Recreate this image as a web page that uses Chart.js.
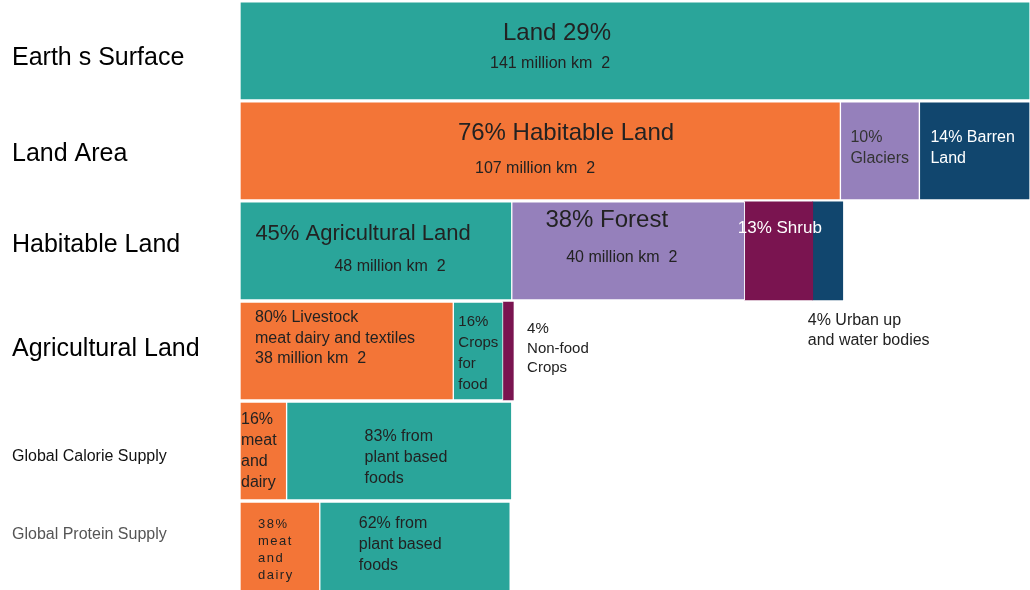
<!DOCTYPE html>
<html>
<head>
<meta charset="utf-8">
<script src="https://cdn.jsdelivr.net/npm/chart.js@4"></script>
<style>
    html, body { margin: 0; padding: 0; background: #fff; overflow: hidden; }
    #wrap { width: 1030px; height: 590px; }
</style>
</head>
<body>
<div id="wrap"><canvas id="landChart" width="1030" height="590"></canvas></div>
<script>
// --- Daten (Breite in % der Landfläche) ---
const rowNames = ["Earth s Surface", "Land Area", "Habitable Land", "Agricultural Land", "Global Calorie Supply", "Global Protein Supply"];

const earthNames = ["Land"];
const earthValues = [100];

const landNames = ["Habitable", "Glaciers", "Barren"];
const landValues = [76, 10, 14];

const habitableNames = ["Agriculture", "Forest", "Shrub", "Urban"];
const habitableValues = [34.4, 29.5, 8.6, 3.8];

const agriNames = ["Livestock", "Crops", "Nonfood"];
const agriValues = [27.0, 6.3, 1.3];

const calorieNames = ["CalMeat", "CalPlant"];
const calorieValues = [5.9, 28.5];

const proteinNames = ["ProtMeat", "ProtPlant"];
const proteinValues = [10.1, 24.1];

// --- Farben ---
const TEAL = "#2aa59a", ORANGE = "#f37537", PURPLE = "#9580bb", NAVY = "#11466e", MAROON = "#7a1450";
const FONT = '"Liberation Sans", Arial, sans-serif';

const rows = [
    { names: earthNames, values: earthValues, colors: [TEAL] },
    { names: landNames, values: landValues, colors: [ORANGE, PURPLE, NAVY] },
    { names: habitableNames, values: habitableValues, colors: [TEAL, PURPLE, MAROON, NAVY] },
    { names: agriNames, values: agriValues, colors: [ORANGE, TEAL, MAROON] },
    { names: calorieNames, values: calorieValues, colors: [ORANGE, TEAL] },
    { names: proteinNames, values: proteinValues, colors: [ORANGE, TEAL] }
];
const noBorder = ["Shrub", "Urban", "Nonfood"];

// --- Datasets bauen (schwebende Balken) ---
const datasets = [];
const dsIndex = {};
rows.forEach((row, r) => {
    let start = 0;
    row.values.forEach((v, i) => {
        dsIndex[row.names[i]] = datasets.length;
        datasets.push({
            label: row.names[i],
            data: [{ x: [start, start + v], y: r }],
            backgroundColor: row.colors[i],
            borderColor: "#ffffff",
            borderWidth: noBorder.includes(row.names[i]) ? 0 : 1,
            borderSkipped: false,
            grouped: false,
            barThickness: 98
        });
        start += v;
    });
});

// --- Beschriftungen in den Balken ---
const labelSpecs = [
    { seg: "Land", lines: ["Land 29%"], size: 24, align: "center", x: 317, y: 32, lh: 0 },
    { seg: "Land", lines: ["141 million km  2"], size: 16, align: "center", x: 310, y: 62, lh: 0 },
    { seg: "Habitable", lines: ["76% Habitable Land"], size: 24, align: "center", x: 326, y: 31, lh: 0 },
    { seg: "Habitable", lines: ["107 million km  2"], size: 16, align: "center", x: 295, y: 67, lh: 0 },
    { seg: "Glaciers", lines: ["10%", "Glaciers"], size: 16, align: "left", x: 10, y: 36, lh: 21, color: "#333" },
    { seg: "Barren", lines: ["14% Barren", "Land"], size: 16, align: "left", x: 11, y: 36, lh: 21, color: "#fff" },
    { seg: "Agriculture", lines: ["45% Agricultural Land"], size: 22, align: "center", x: 123, y: 32, lh: 0 },
    { seg: "Agriculture", lines: ["48 million km  2"], size: 16, align: "center", x: 150, y: 65, lh: 0 },
    { seg: "Forest", lines: ["38% Forest"], size: 24, align: "center", x: 95, y: 18, lh: 0 },
    { seg: "Forest", lines: ["40 million km  2"], size: 16, align: "center", x: 110, y: 56, lh: 0 },
    { seg: "Shrub", lines: ["13% Shrub"], size: 17, align: "center", x: 35, y: 26, lh: 0, color: "#fff" },
    { seg: "Urban", lines: ["4% Urban up", "and water bodies"], size: 16, align: "left", x: -5, y: 119, lh: 20 },
    { seg: "Livestock", lines: ["80% Livestock", "meat dairy and textiles", "38 million km  2"], size: 16, align: "left", x: 15, y: 16, lh: 20.5 },
    { seg: "Crops", lines: ["16%", "Crops", "for", "food"], size: 15, align: "left", x: 5, y: 20, lh: 21 },
    { seg: "Nonfood", lines: ["4%", "Non-food", "Crops"], size: 15, align: "left", x: 24, y: 27, lh: 19.5 },
    { seg: "CalMeat", lines: ["16%", "meat", "and", "dairy"], size: 16, align: "left", x: 1, y: 18, lh: 21 },
    { seg: "CalPlant", lines: ["83% from", "plant based", "foods"], size: 16, align: "left", x: 78, y: 35, lh: 21 },
    { seg: "ProtMeat", lines: ["38%", "meat", "and", "dairy"], size: 13, align: "left", x: 18, y: 22, lh: 17, spacing: 1.5 },
    { seg: "ProtPlant", lines: ["62% from", "plant based", "foods"], size: 16, align: "left", x: 39, y: 22, lh: 21 }
];

const segmentLabels = {
    id: "segmentLabels",
    afterDatasetsDraw(chart) {
        const ctx = chart.ctx;
        labelSpecs.forEach(s => {
            const bar = chart.getDatasetMeta(dsIndex[s.seg]).data[0];
            const left = Math.min(bar.x, bar.base);
            const top = bar.y - bar.height / 2;
            ctx.save();
            ctx.font = s.size + "px " + FONT;
            ctx.fillStyle = s.color || "#222";
            ctx.textAlign = s.align;
            ctx.textBaseline = "middle";
            if (s.spacing) ctx.letterSpacing = s.spacing + "px";
            s.lines.forEach((t, i) => ctx.fillText(t, left + s.x, top + s.y + i * s.lh));
            ctx.restore();
        });
    }
};

// --- Zeilenbeschriftung ---
const rowFontSizes = [25, 25, 25, 25, 16, 16];
const rowColors = ["#000", "#000", "#000", "#000", "#111", "#555"];
const rowTickShift = [0.07, 0.03, -0.06, -0.02, 0.06, -0.16];

new Chart(document.getElementById("landChart"), {
    type: "bar",
    data: { datasets: datasets },
    options: {
        indexAxis: "y",
        responsive: false,
        animation: false,
        layout: { padding: { left: 12, right: 0, top: 0, bottom: 0 } },
        plugins: {
            legend: { display: false },
            tooltip: { enabled: false }
        },
        scales: {
            x: {
                type: "linear",
                min: 0,
                max: 100,
                display: false
            },
            y: {
                type: "linear",
                reverse: true,
                offset: false,
                min: -0.508,
                max: 5.389,
                grid: { display: false },
                border: { display: false },
                afterBuildTicks: (scale) => {
                    scale.ticks = rowNames.map((n, i) => ({ value: i + rowTickShift[i] }));
                },
                afterFit: (scale) => {
                    scale.width = 228;
                    scale.paddingTop = 0;
                    scale.paddingBottom = 0;
                },
                ticks: {
                    autoSkip: false,
                    maxRotation: 0,
                    crossAlign: "far",
                    callback: (value, index) => rowNames[index],
                    font: (c) => ({ family: FONT, size: rowFontSizes[c.index] }),
                    color: (c) => rowColors[c.index]
                }
            }
        }
    },
    plugins: [segmentLabels]
});
</script>
</body>
</html>
